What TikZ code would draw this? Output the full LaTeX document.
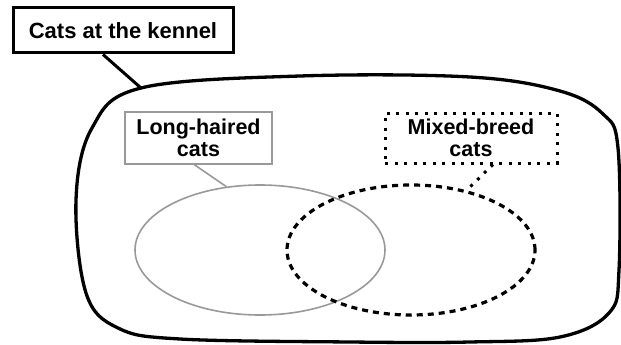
\documentclass[tikz,border=0pt]{standalone}
\usepackage{fontspec}
\setmainfont{Liberation Sans}
\usetikzlibrary{shapes.geometric}
\tikzset{
  labelbox/.style={rectangle, inner sep=0pt, align=center, font=\bfseries\fontsize{21.5}{22}\selectfont},
  titlebox/.style={draw=black, line width=3pt, rectangle, inner sep=0pt, font=\bfseries\fontsize{22}{24}\selectfont},
  graybox/.style={labelbox, draw=black!40, line width=1.6pt},
  dotbox/.style={labelbox, draw=black, line width=3pt, dash pattern=on 3pt off 6.5pt},
  grayline/.style={draw=black!40, line width=1.6pt},
  dotline/.style={draw=black, line width=3pt, dash pattern=on 3pt off 6.5pt},
  dashline/.style={draw=black, line width=3.2pt, dash pattern=on 6pt off 5pt},
  blobline/.style={draw=black, line width=3.3pt},
  setell/.style={ellipse, inner sep=0pt, minimum width=250pt, minimum height=130pt}
}
\begin{document}
\begin{tikzpicture}[x=1pt, y=-1pt]
\useasboundingbox (0,0) rectangle (621,345);
% big blob
\draw[blobline] plot[smooth cycle, tension=0.6] coordinates {
  (141,88) (300,76) (470,77) (560,91) (603,114) (618,148) (619,270)
  (609,313) (560,337) (470,342) (350,342) (180,339) (118,328) (86,293) (76,200) (92,128)};
\coordinate (b1) at (141,88);
% title
\node[titlebox, minimum width=220pt, minimum height=45pt] (title) at (123,30.5) {Cats at the kennel};
\draw[line width=3pt] ([xshift=-20pt]title.south) -- (b1);
% ellipses
\node[setell, grayline] (le) at (260,250) {};
\node[setell, dashline, minimum width=248pt] (me) at (411,250) {};
% label boxes
\node[graybox, minimum width=147pt, minimum height=52pt] (long) at (198.5,138) {Long-haired\\cats};
\node[dotbox, minimum width=172pt, minimum height=50pt] (mixed) at (471,138) {Mixed-breed\\cats};
% connectors
\draw[grayline] ([xshift=-4pt]long.south) -- (le.118);
\draw[dotline] ([xshift=22pt]mixed.south) -- (me.47);
\end{tikzpicture}
\end{document}
